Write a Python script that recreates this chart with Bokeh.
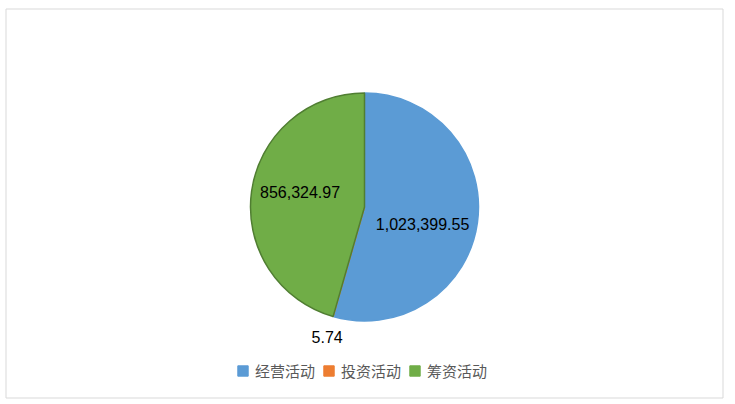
import math
from bokeh.plotting import figure
from bokeh.models import Range1d, ColumnDataSource, Legend, LegendItem
from bokeh.core.properties import value
from bokeh.embed import file_html
from bokeh.resources import INLINE

# data
categories = ["经营活动", "投资活动", "筹资活动"]
amounts = [1023399.55, 5.74, 856324.97]
label_texts = ["1,023,399.55", "5.74", "856,324.97"]
colors = ["#5B9BD5", "#ED7D31", "#70AD47"]
edge_colors = ["#5B9BD5", "#ED7D31", "#507E32"]

W, H = 727, 402
cx, cy, R = 364, H - 206.5, 114
label_r = [0.53, 1.19, 0.58]
label_shift = [-8.0, 0.0, -5.0]  # degrees, best-fit nudge

total = sum(amounts)
starts, ends, lx, ly = [], [], [], []
cum = 0.0
for a, lr, sh in zip(amounts, label_r, label_shift):
    s = math.pi / 2 - 2 * math.pi * cum / total
    cum += a
    e = math.pi / 2 - 2 * math.pi * cum / total
    starts.append(s)
    ends.append(e)
    m = (s + e) / 2 + math.radians(sh)
    lx.append(cx + lr * R * math.cos(m))
    ly.append(cy + lr * R * math.sin(m))

src = ColumnDataSource(dict(cat=categories, amt=amounts, s=starts, e=ends,
                            fc=colors, lc=edge_colors, lx=lx, ly=ly, txt=label_texts))

p = figure(width=W, height=H, output_backend="svg", toolbar_location=None,
           x_range=Range1d(0, W), y_range=Range1d(0, H),
           x_axis_type=None, y_axis_type=None, min_border=0)
p.grid.visible = False
p.outline_line_color = None
p.background_fill_color = "white"
p.border_fill_color = "white"

# chart area border
p.quad(left=5.5, right=722.5, bottom=H - 397.5, top=H - 8.5,
       fill_color=None, line_color="#D9D9D9", line_width=1)

p.wedge(x=cx, y=cy, radius=R, start_angle="s", end_angle="e", direction="clock",
        fill_color="fc", line_color="lc", line_width=1.5, source=src)

p.text(x="lx", y="ly", text="txt", source=src, text_align="center",
       text_baseline="middle", text_font=value("Liberation Sans"),
       text_font_size="16px", text_color="#000000")

items = []
for c, col in zip(categories, colors):
    r = p.rect(x=[float("nan")], y=[float("nan")], width=1, height=1,
               fill_color=col, line_color=col)
    items.append(LegendItem(label=c, renderers=[r]))

legend = Legend(items=items, orientation="horizontal", location=(236, 21),
                glyph_width=13, glyph_height=13, label_standoff=6, spacing=7,
                padding=0, margin=0, label_text_font="Noto Sans CJK SC",
                label_text_font_size="15px", label_text_color="#595959",
                border_line_alpha=0, background_fill_alpha=0, label_height=20)
p.add_layout(legend, "center")

open("out.html", "w").write(file_html(p, INLINE))
